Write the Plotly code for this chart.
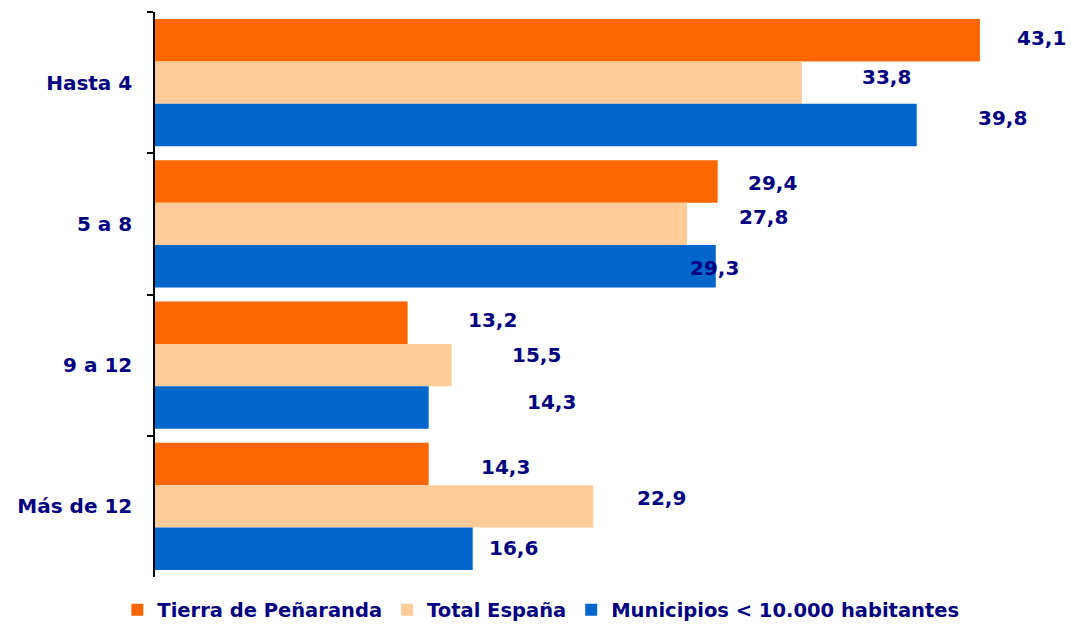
import plotly.graph_objects as go

categories = ["Hasta 4", "5 a 8", "9 a 12", "Más de 12"]
series_names = ["Tierra de Peñaranda", "Total España", "Municipios < 10.000 habitantes"]
tierra = [43.1, 29.4, 13.2, 14.3]
espana = [33.8, 27.8, 15.5, 22.9]
municipios = [39.8, 29.3, 14.3, 16.6]

colors = ["#FF6600", "#FFCC99", "#0066CC"]
text_color = "#000080"
font_family = "DejaVu Sans, Verdana, sans-serif"

# label placement offsets (px): (xshift from bar end, yshift from bar centre)
label_offsets = [
    [(35, 2), (28, -1), (58, 3), (50, -3)],
    [(58, 6), (50, 7), (58, 10), (42, 8)],
    [(59, 7), (-28, -2), (96, 6), (14, 1)],
]

values = [tierra, espana, municipios]
fig = go.Figure()
for name, vals, col in zip(series_names, values, colors):
    fig.add_trace(go.Bar(
        y=categories, x=vals, name=name, orientation="h",
        marker=dict(color=col, line=dict(width=0)),
        hoverinfo="skip",
    ))

bargap = 0.1
bar_w = (1 - bargap) / 3
annotations = []
for j, vals in enumerate(values):
    for i, v in enumerate(vals):
        dx, dy = label_offsets[j][i]
        annotations.append(dict(
            x=v, y=i + (j - 1) * bar_w, xref="x", yref="y",
            text=f"{v:.1f}".replace(".", ","),
            showarrow=False, xanchor="left", yanchor="middle",
            xshift=dx, yshift=dy,
            font=dict(family=font_family, size=20, color=text_color, weight="bold"),
        ))

fig.update_layout(
    width=1071, height=625,
    barmode="group", bargap=bargap, bargroupgap=0,
    plot_bgcolor="white", paper_bgcolor="white",
    margin=dict(l=155, r=0, t=12, b=48, autoexpand=False),
    font=dict(family=font_family, size=20, color=text_color, weight="bold"),
    showlegend=True,
    legend=dict(
        orientation="h", x=0.505, xanchor="center", xref="container",
        y=0.024, yanchor="middle", yref="container",
        font=dict(family=font_family, size=19.5, color=text_color, weight="bold"),
        traceorder="normal", itemclick=False,
    ),
    annotations=annotations,
    xaxis=dict(visible=False, range=[0, 47.86], showgrid=False, zeroline=False),
    yaxis=dict(
        autorange="reversed", showgrid=False, zeroline=False,
        showline=True, linecolor="black", linewidth=1.5,
        ticks="outside", ticklen=6, tickcolor="black", tickwidth=1.5,
        tickson="boundaries", ticklabelstandoff=17, automargin=False,
        tickfont=dict(family=font_family, size=20, color=text_color, weight="bold"),
    ),
)

fig.write_html("out.html", config={"displayModeBar": False},
               post_script="document.body.style.margin='0';")
